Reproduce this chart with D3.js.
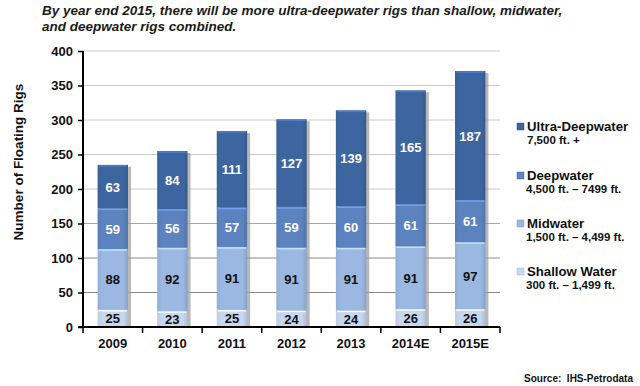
<!DOCTYPE html>
<html><head><meta charset="utf-8">
<script src="https://cdn.jsdelivr.net/npm/d3@7"></script>
<style>body{margin:0;background:#fff}svg{display:block;font-family:"Liberation Sans",Arial,sans-serif}</style>
</head><body><svg id="c" width="640" height="386"></svg>
<script>
const categories = ["2009","2010","2011","2012","2013","2014E","2015E"];
const shallow = [25,23,25,24,24,26,26];
const midwater = [88,92,91,91,91,91,97];
const deepwater = [59,56,57,59,60,61,61];
const ultra = [63,84,111,127,139,165,187];
const yTicks = [0,50,100,150,200,250,300,350,400];
const seriesNames = ["Shallow Water","Midwater","Deepwater","Ultra-Deepwater"];
const seriesSub = ["300 ft. \u2013 1,499 ft.","1,500 ft. \u2013 4,499 ft.","4,500 ft. \u2013 7499 ft.","7,500 ft. +"];
const colors = ["#c6d7ef","#9ab8e2","#5c83bf","#3d66a0"];
const labelColors = ["#111","#111","#fff","#fff"];

const svg = d3.select("#c");
const x = d3.scaleBand().domain(categories).range([83,500]).paddingInner(0.49).paddingOuter(0.245);
const y = d3.scaleLinear().domain([0,400]).range([327,51]);

// gridlines
svg.append("g").selectAll("line").data(yTicks.filter(d=>d>0)).join("line")
  .attr("x1",83).attr("x2",500).attr("y1",d=>y(d)).attr("y2",d=>y(d))
  .attr("stroke",d=>d<=100?"#8a8a8a":(d===150?"#a8a8a8":"#cccccc")).attr("stroke-width",1);

const data = categories.map((c,i)=>({cat:c,shallow:shallow[i],midwater:midwater[i],deepwater:deepwater[i],ultra:ultra[i]}));
const keys = ["shallow","midwater","deepwater","ultra"];
const stack = d3.stack().keys(keys)(data);

const defs = svg.append("defs");
colors.forEach((c,i)=>{
  const g = defs.append("linearGradient").attr("id","g"+i).attr("x1","0").attr("x2","1").attr("y1","0").attr("y2","0");
  g.append("stop").attr("offset","0").attr("stop-color",d3.color(c).darker(0.15));
  g.append("stop").attr("offset","0.15").attr("stop-color",c);
  g.append("stop").attr("offset","0.85").attr("stop-color",c);
  g.append("stop").attr("offset","1").attr("stop-color",d3.color(c).darker(0.35));
});

// shadows
svg.append("g").selectAll("rect").data(data).join("rect")
  .attr("x",d=>x(d.cat)+3).attr("width",x.bandwidth())
  .attr("y",d=>y(d.shallow+d.midwater+d.deepwater+d.ultra)+2)
  .attr("height",d=>y(0)-y(d.shallow+d.midwater+d.deepwater+d.ultra)-2)
  .attr("fill","#9a9a9a").attr("opacity",0.7);

stack.forEach((s,si)=>{
  const g = svg.append("g");
  g.selectAll("rect").data(s).join("rect")
    .attr("x",d=>x(d.data.cat)).attr("width",x.bandwidth())
    .attr("y",d=>y(d[1])).attr("height",d=>y(d[0])-y(d[1]))
    .attr("fill","url(#g"+si+")");
  g.selectAll("line").data(s).join("line")
    .attr("x1",d=>x(d.data.cat)+1).attr("x2",d=>x(d.data.cat)+x.bandwidth()-1)
    .attr("y1",d=>y(d[1])+1).attr("y2",d=>y(d[1])+1)
    .attr("stroke",d3.color(colors[si]).brighter(0.6)).attr("stroke-width",1.5);
  g.selectAll("text").data(s).join("text")
    .attr("x",d=>x(d.data.cat)+x.bandwidth()/2)
    .attr("y",d=>(y(d[0])+y(d[1]))/2+5)
    .attr("text-anchor","middle").attr("font-size",13).attr("font-weight","bold")
    .attr("fill",labelColors[si]).text(d=>d[1]-d[0]);
});

// y axis
const ya = svg.append("g").attr("transform","translate(83,0)")
  .call(d3.axisLeft(y).tickValues(yTicks).tickSize(5).tickPadding(5));
ya.select(".domain").attr("stroke","#000").attr("stroke-width",2).attr("d","M0,51V327");
ya.selectAll(".tick line").attr("stroke","#000").attr("stroke-width",1.5);
ya.selectAll("text").attr("font-size",13).attr("font-weight","bold").attr("fill","#111").attr("font-family","Liberation Sans, Arial, sans-serif");

// x axis
const xa = svg.append("g").attr("transform","translate(0,327)");
xa.append("line").attr("x1",78).attr("x2",500).attr("y1",0).attr("y2",0).attr("stroke","#000").attr("stroke-width",2);
const bounds = categories.map(c=>x(c)-x.step()*x.paddingInner()/2).concat([500]);
xa.selectAll("line.t").data(bounds).join("line").attr("class","t")
  .attr("x1",d=>d).attr("x2",d=>d).attr("y1",0).attr("y2",6).attr("stroke","#000").attr("stroke-width",1.5);
xa.selectAll("text").data(categories).join("text")
  .attr("x",d=>x(d)+x.bandwidth()/2).attr("y",21).attr("text-anchor","middle")
  .attr("font-size",13).attr("font-weight","bold").attr("fill","#111").text(d=>d);

// y title
svg.append("text").attr("transform","translate(23,162) rotate(-90)").attr("text-anchor","middle")
  .attr("font-size",13.5).attr("font-weight","bold").attr("fill","#111").text("Number of Floating Rigs");

// title
const t = svg.append("text").attr("font-size",13.5).attr("font-weight","bold").attr("font-style","italic").attr("fill","#1a1a1a");
t.append("tspan").attr("x",42).attr("y",15).text("By year end 2015, there will be more ultra-deepwater rigs than shallow, midwater,");
t.append("tspan").attr("x",42).attr("y",31).text("and deepwater rigs combined.");

// legend
const legY = [276,228,180,131];
const leg = svg.append("g");
[3,2,1,0].forEach(i=>{
  const ly = legY[i];
  leg.append("rect").attr("x",517).attr("y",ly-8).attr("width",7).attr("height",7)
    .attr("fill",colors[i]).attr("stroke",d3.color(colors[i]).darker(0.5)).attr("stroke-width",0.5);
  leg.append("text").attr("x",527).attr("y",ly).attr("font-size",13.2).attr("font-weight","bold").attr("fill","#111").text(seriesNames[i]);
  leg.append("text").attr("x",i===3?527:526).attr("y",ly+13).attr("font-size",11.5).attr("font-weight","bold").attr("fill","#111").text(seriesSub[i]);
});

// source
svg.append("text").attr("x",633).attr("y",382).attr("text-anchor","end").attr("font-size",10).attr("font-weight","bold").attr("fill","#111")
  .attr("xml:space","preserve").text("Source:  IHS-Petrodata");
</script></body></html>
